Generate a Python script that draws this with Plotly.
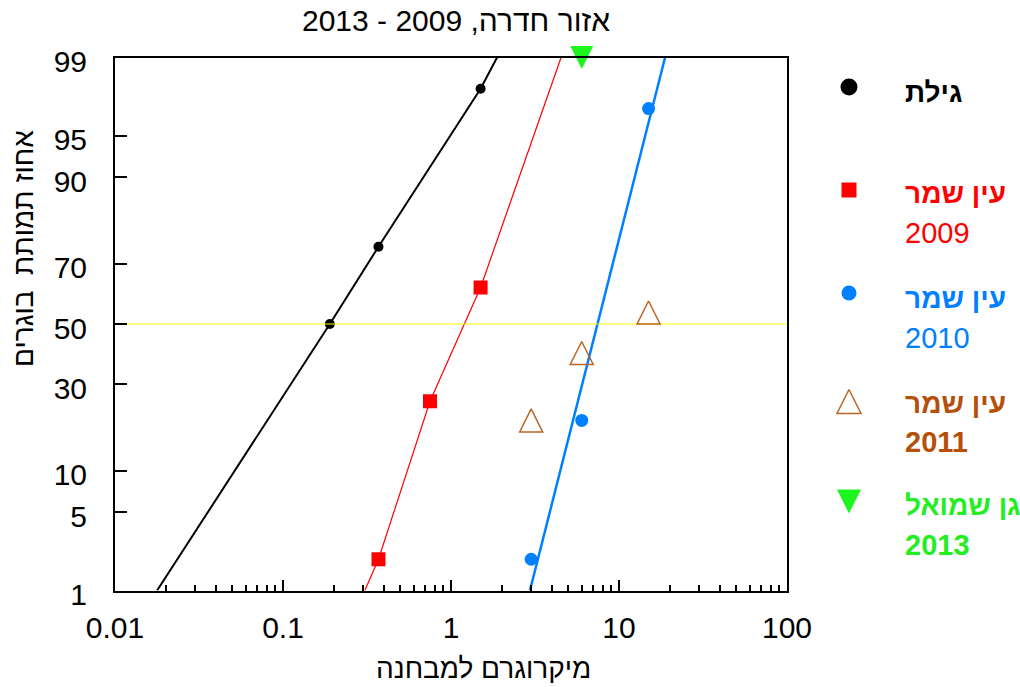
import plotly.graph_objects as go
from statistics import NormalDist

_nd = NormalDist()


def probit(p):
    """Percent -> standard normal quantile (probability-paper scale)."""
    return _nd.inv_cdf(p / 100.0)


# ---- measured samples: concentration (µg/vial) vs. adult mortality (%) ----
gilat_x = [0.19, 0.37, 1.5]
gilat_p = [50, 75, 98]

ein_shemer_2009_x = [0.37, 0.75, 1.5]
ein_shemer_2009_p = [2, 25, 62.5]

ein_shemer_2010_x = [3, 6, 15]
ein_shemer_2010_p = [2, 20, 97]

ein_shemer_2011_x = [3, 6, 15]
ein_shemer_2011_p = [20, 40, 54]

gan_shmuel_2013_x = [6]
gan_shmuel_2013_p = [99]

# ---- fitted dose-response curves ----
gilat_fit_x = [0.0178, 0.19, 0.37, 1.5, 1.88]
gilat_fit_p = [1, 50, 75, 98, 99]

ein_shemer_2009_fit_x = [0.307, 0.37, 0.75, 1.5, 4.52]
ein_shemer_2009_fit_p = [1, 2, 25, 62.5, 99]

ein_shemer_2010_fit_x = [2.95, 18.8]
ein_shemer_2010_fit_p = [1, 99]

# 50 % reference line
median_x = [0.01, 100]
median_p = [50, 50]

# ---- axis ticks ----
y_tick_values = [1, 5, 10, 30, 50, 70, 90, 95, 99]
x_tick_values = [0.01, 0.1, 1, 10, 100]
x_tick_text = ["0.01", "0.1", "1", "10", "100"]

# ---- texts ----
title_text = "\u202bאזור חדרה, 2009 - 2013\u202c"
x_title = "מיקרוגרם למבחנה"
y_title = "אחוז תמותת  בוגרים"

# ---- colours ----
BLACK = "#000000"
RED = "#ff0000"
BLUE = "#0080ff"
BROWN_MARK = "#bb6524"
BROWN_TEXT = "#b4500a"
GREEN_MARK = "#1ef51e"
GREEN_TEXT = "#22ee22"
YELLOW = "#ffff00"

FONT = "Liberation Sans, Arial, sans-serif"
FS = 28
FS_TICK = 30
FS_TITLE = 30

# ---- page geometry (pixels) ----
W, H = 1020, 687
PL, PR, PT, PB = 115, 787, 57.5, 590.5


def yz(values):
    return [probit(v) for v in values]


fig = go.Figure()

# fitted lines
fig.add_trace(go.Scatter(x=gilat_fit_x, y=yz(gilat_fit_p), mode="lines",
                         line=dict(color=BLACK, width=2), hoverinfo="skip"))
fig.add_trace(go.Scatter(x=ein_shemer_2009_fit_x, y=yz(ein_shemer_2009_fit_p), mode="lines",
                         line=dict(color=RED, width=1.2), hoverinfo="skip"))
fig.add_trace(go.Scatter(x=ein_shemer_2010_fit_x, y=yz(ein_shemer_2010_fit_p), mode="lines",
                         line=dict(color=BLUE, width=2.5), hoverinfo="skip"))

# Gilat samples
fig.add_trace(go.Scatter(x=gilat_x, y=yz(gilat_p), mode="markers",
                         marker=dict(symbol="circle", size=10, color=BLACK),
                         cliponaxis=False))

# 50 % line
fig.add_trace(go.Scatter(x=median_x, y=yz(median_p), mode="lines",
                         line=dict(color=YELLOW, width=1.2), hoverinfo="skip"))

fig.add_trace(go.Scatter(x=ein_shemer_2009_x, y=yz(ein_shemer_2009_p), mode="markers",
                         marker=dict(symbol="square", size=14, color=RED),
                         cliponaxis=False))
fig.add_trace(go.Scatter(x=ein_shemer_2010_x, y=yz(ein_shemer_2010_p), mode="markers",
                         marker=dict(symbol="circle", size=13, color=BLUE),
                         cliponaxis=False))
# centred, upright open triangles (arrow glyph turned over and offset by half its height)
fig.add_trace(go.Scatter(x=ein_shemer_2011_x, y=yz(ein_shemer_2011_p), mode="markers",
                         marker=dict(symbol="arrow-down-open", size=23, angle=180,
                                     standoff=11.5, color=BROWN_MARK,
                                     line=dict(color=BROWN_MARK, width=1.5)),
                         cliponaxis=False))
fig.add_trace(go.Scatter(x=gan_shmuel_2013_x, y=yz(gan_shmuel_2013_p), mode="markers",
                         marker=dict(symbol="arrow-down", size=23, standoff=11.5,
                                     color=GREEN_MARK, line=dict(width=0)),
                         cliponaxis=False))

# ---- legend, drawn on a pixel-scaled helper subplot ----
legend_entries = [
    # (marker symbol, size, colour, angle, standoff, marker y, [(text, colour, bold, y)])
    ("circle", 17, BLACK, 0, 0, 87, [("גילת", BLACK, True, 92)]),
    ("square", 15, RED, 0, 0, 190, [("עין שמר", RED, True, 193), ("2009", RED, False, 233)]),
    ("circle", 15, BLUE, 0, 0, 293, [("עין שמר", BLUE, True, 298), ("2010", BLUE, False, 338)]),
    ("arrow-down-open", 24, BROWN_MARK, 180, 12, 401.5,
     [("עין שמר", BROWN_TEXT, True, 403), ("2011", BROWN_TEXT, True, 442)]),
    ("arrow-down", 24, GREEN_MARK, 0, 12, 501.5,
     [("גן שמואל", GREEN_TEXT, True, 505), ("2013", GREEN_TEXT, True, 545)]),
]
LEG_MARK_X = 849
LEG_TEXT_X = 903

annotations = []
for sym, size, col, ang, so, my, texts in legend_entries:
    fig.add_trace(go.Scatter(
        x=[LEG_MARK_X], y=[my], xaxis="x2", yaxis="y2", mode="markers",
        marker=dict(symbol=sym, size=size, color=col, angle=ang, standoff=so,
                    line=dict(color=col, width=1.5 if "open" in sym else 0)),
        cliponaxis=False, hoverinfo="skip"))
    for txt, tcol, bold, ty in texts:
        annotations.append(dict(
            x=LEG_TEXT_X, y=ty, xref="x2", yref="y2", xanchor="left", yanchor="middle",
            text=f"<b>{txt}</b>" if bold else txt, showarrow=False,
            font=dict(family=FONT, size=FS + (1 if txt.isdigit() else 0), color=tcol)))

# title and axis titles
annotations.append(dict(x=456, y=20, xref="x2", yref="y2", xanchor="center", yanchor="middle",
                        text=title_text, showarrow=False,
                        font=dict(family=FONT, size=FS_TITLE, color=BLACK)))
annotations.append(dict(x=483, y=668, xref="x2", yref="y2", xanchor="center", yanchor="middle",
                        text=x_title, showarrow=False,
                        font=dict(family=FONT, size=FS, color=BLACK)))
annotations.append(dict(x=23, y=249, xref="x2", yref="y2", xanchor="center", yanchor="middle",
                        text=y_title, textangle=-90, showarrow=False,
                        font=dict(family=FONT, size=FS, color=BLACK)))

minor_x = [m * 10.0 ** e for e in range(-2, 2) for m in range(2, 10)]

fig.update_layout(
    width=W, height=H, autosize=False,
    margin=dict(l=0, r=0, t=0, b=0, pad=0),
    paper_bgcolor="white", plot_bgcolor="rgba(0,0,0,0)",
    showlegend=False,
    font=dict(family=FONT, size=FS, color=BLACK),
    annotations=annotations,
    xaxis=dict(
        type="log", range=[-2, 2], domain=[PL / W, PR / W], anchor="y",
        tickvals=x_tick_values, ticktext=x_tick_text,
        ticks="inside", ticklen=11, tickwidth=2, tickcolor=BLACK,
        minor=dict(tickvals=minor_x, ticks="inside", ticklen=6, tickwidth=1.5,
                   tickcolor=BLACK, showgrid=False),
        showline=True, linewidth=2, linecolor=BLACK, mirror=True,
        showgrid=False, zeroline=False, automargin=False,
        tickfont=dict(family=FONT, size=FS_TICK, color=BLACK),
        ticklabelstandoff=9,
    ),
    yaxis=dict(
        range=[probit(1), probit(99)], domain=[1 - PB / H, 1 - PT / H], anchor="x",
        tickvals=yz(y_tick_values), ticktext=[str(v) for v in y_tick_values],
        ticks="inside", ticklen=12, tickwidth=2, tickcolor=BLACK,
        showline=True, linewidth=2, linecolor=BLACK, mirror=True,
        showgrid=False, zeroline=False, automargin=False,
        tickfont=dict(family=FONT, size=FS_TICK, color=BLACK),
        ticklabelstandoff=20, ticklabelshift=4,
    ),
    xaxis2=dict(domain=[0, 1], range=[0, W], anchor="y2", visible=False, fixedrange=True),
    yaxis2=dict(domain=[0, 1], range=[H, 0], anchor="x2", visible=False, fixedrange=True),
)

fig.write_html("out.html")
